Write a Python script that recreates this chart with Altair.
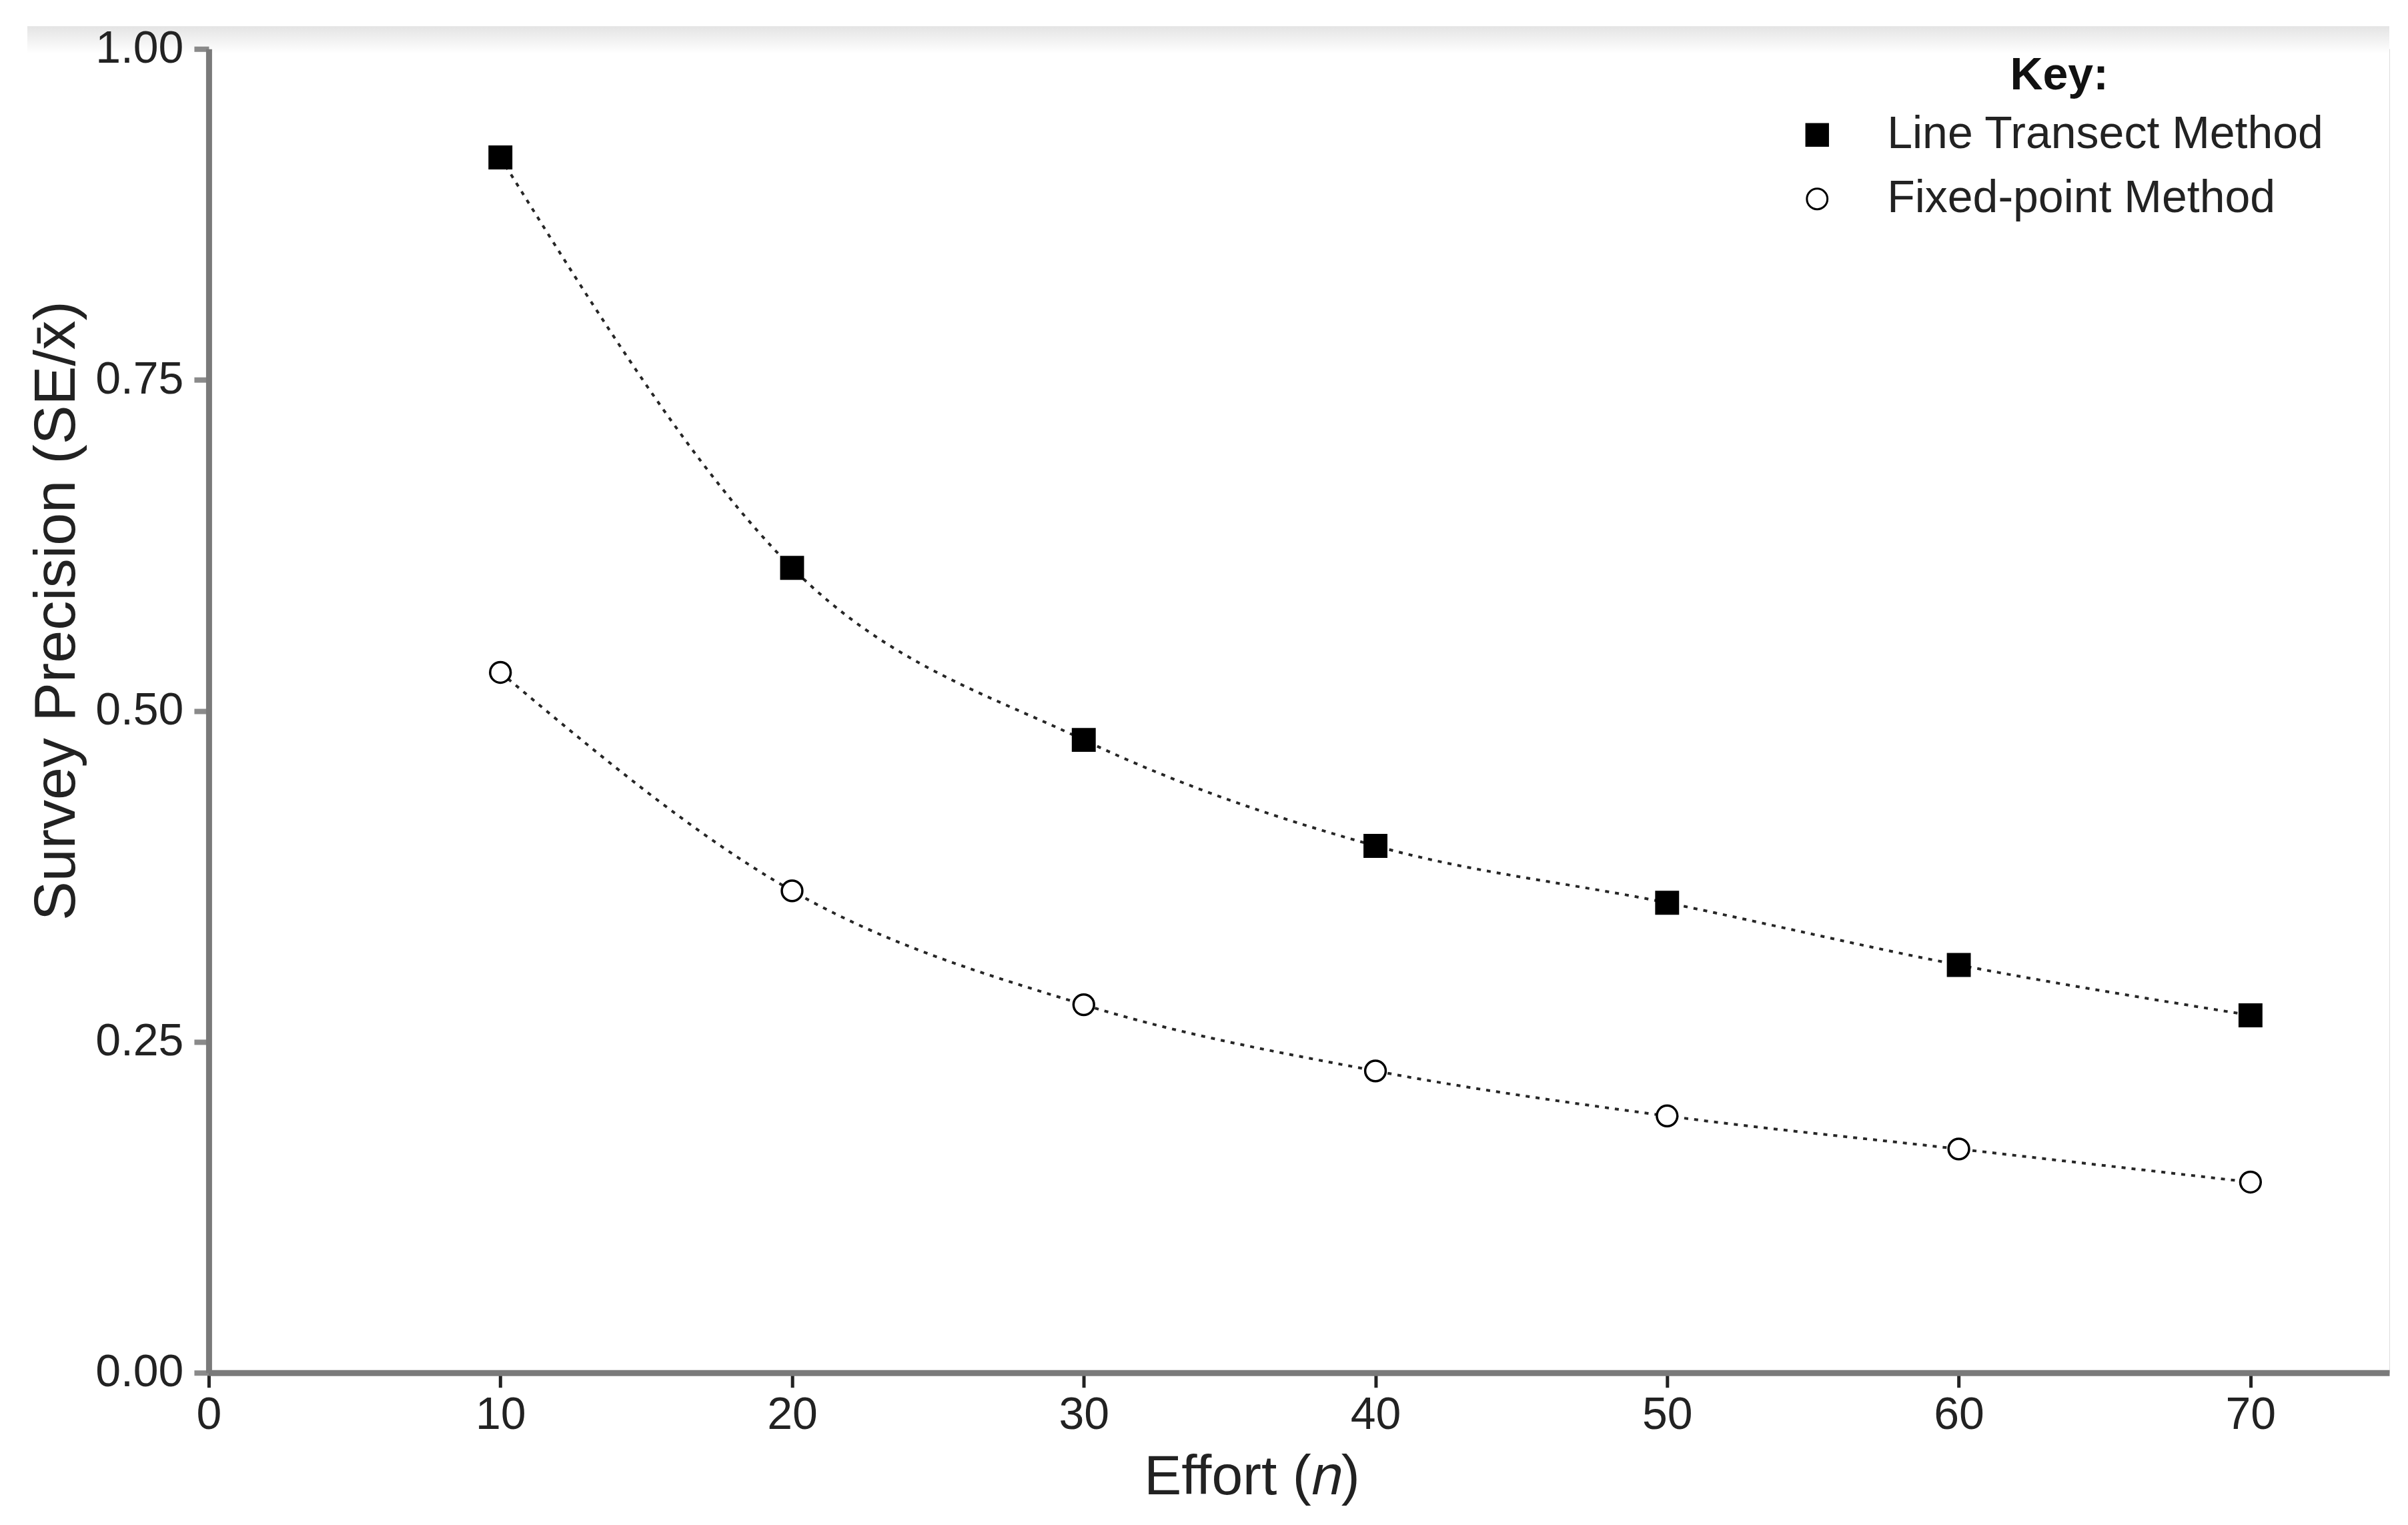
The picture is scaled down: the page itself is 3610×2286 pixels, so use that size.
import altair as alt
import pandas as pd

# ---- data ----
effort = [10, 20, 30, 40, 50, 60, 70]
line_transect = [0.918, 0.608, 0.478, 0.398, 0.355, 0.308, 0.270]
fixed_point = [0.529, 0.364, 0.278, 0.228, 0.194, 0.169, 0.144]
series_names = ["Line Transect Method", "Fixed-point Method"]
x_ticks = [0, 10, 20, 30, 40, 50, 60, 70]
y_ticks = [0.0, 0.25, 0.5, 0.75, 1.0]

rows = []
for n, v in zip(effort, line_transect):
    rows.append({"effort": n, "precision": v, "method": series_names[0]})
for n, v in zip(effort, fixed_point):
    rows.append({"effort": n, "precision": v, "method": series_names[1]})
df = pd.DataFrame(rows)

FONT = "Liberation Sans"
W, H = 3270, 1985

x_enc = alt.X(
    "effort:Q",
    scale=alt.Scale(domain=[0, 74.76], nice=False, zero=False),
    axis=alt.Axis(
        values=x_ticks,
        title="Effort (𝑛)",
        grid=False,
        labelFontSize=68,
        labelFont=FONT,
        labelColor="#222222",
        labelPadding=8,
        labelFlush=False,
        labelOverlap=False,
        tickColor="#222222",
        tickWidth=5,
        tickSize=22,
        domainColor="#7a7a7a",
        domainWidth=9,
        titleFont=FONT,
        titleFontSize=84,
        titleFontWeight="normal",
        titleColor="#222222",
        titleX=1564,
        titleY=182,
        titleAlign="center",
        titleBaseline="alphabetic",
        titleAnchor="start",
        zindex=1,
    ),
)
y_enc = alt.Y(
    "precision:Q",
    scale=alt.Scale(domain=[0, 1], nice=False),
    axis=alt.Axis(
        values=y_ticks,
        format=".2f",
        title="Survey Precision (SE/x\u0304)",
        grid=False,
        labelFontSize=68,
        labelFont=FONT,
        labelColor="#222222",
        labelPadding=16,
        labelFlush=False,
        labelOverlap=False,
        tickColor="#8a8a8a",
        tickWidth=8,
        tickSize=22,
        domainColor="#7a7a7a",
        domainWidth=9,
        titleFont=FONT,
        titleFontSize=88,
        titleFontWeight="normal",
        titleColor="#222222",
        titleX=-201,
        titleY=842,
        titleAngle=270,
        titleAlign="center",
        titleBaseline="alphabetic",
        titleAnchor="start",
        zindex=1,
    ),
)

legend = alt.Legend(
    title="Key:",
    orient="none",
    legendX=2378,
    legendY=7,
    titleFont=FONT,
    titleFontSize=68,
    titleFontWeight="bold",
    titleColor="#111111",
    titleAnchor="middle",
    titlePadding=20,
    labelFont=FONT,
    labelFontSize=68,
    labelColor="#222222",
    labelOffset=71,
    labelLimit=0,
    rowPadding=28,
    padding=0,
    symbolStrokeWidth=3,
)

strip = alt.Chart(pd.DataFrame({"a": [0]})).mark_rect(
    fill=alt.Gradient(
        gradient="linear",
        stops=[
            alt.GradientStop(color="#e4e4e4", offset=0),
            alt.GradientStop(color="#ffffff", offset=1),
        ],
        x1=0, x2=0, y1=0, y2=1,
    ),
    strokeWidth=0,
).encode(
    x=alt.value(-272), x2=alt.value(W), y=alt.value(-34), y2=alt.value(7)
)

lines = alt.Chart(df).mark_line(
    color="#262626",
    strokeWidth=4,
    strokeDash=[6, 9],
    interpolate="monotone",
).encode(x=x_enc, y=y_enc, detail="method:N")

points = alt.Chart(df).mark_point(
    filled=True,
    strokeWidth=3.5,
    opacity=1,
).encode(
    x=x_enc,
    y=y_enc,
    shape=alt.Shape(
        "method:N",
        scale=alt.Scale(domain=series_names, range=["square", "circle"]),
        legend=legend,
    ),
    fill=alt.Fill(
        "method:N",
        scale=alt.Scale(domain=series_names, range=["black", "white"]),
        legend=legend,
    ),
    stroke=alt.Stroke(
        "method:N",
        scale=alt.Scale(domain=series_names, range=["black", "black"]),
        legend=legend,
    ),
    size=alt.Size(
        "method:N",
        scale=alt.Scale(domain=series_names, range=[1050, 950]),
        legend=legend,
    ),
)

chart = (
    alt.layer(strip, lines, points)
    .properties(
        width=W,
        height=H,
        autosize=alt.AutoSizeParams(type="none"),
        padding={"left": 305, "top": 65, "right": 20, "bottom": 200},
    )
    .configure_view(stroke=None)
    .configure(background="white")
)

chart.save("out.html", embed_options={"renderer": "svg", "actions": False})
